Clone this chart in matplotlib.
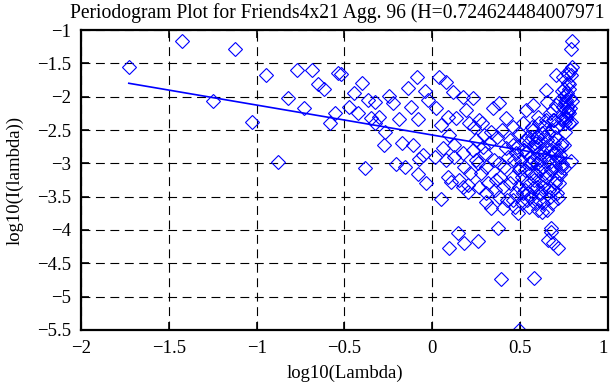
import matplotlib
matplotlib.use("Agg")
import matplotlib.pyplot as plt
from matplotlib.ticker import FixedLocator

# Periodogram points: log10(Lambda), log10(I(lambda))
x_left = [-1.728, -1.425, -1.250, -1.123, -1.026, -0.949, -0.880, -0.821, -0.770,
          -0.728, -0.685, -0.649, -0.614, -0.582, -0.554, -0.539, -0.520, -0.476,
          -0.444, -0.425, -0.402, -0.381, -0.368, -0.349, -0.324, -0.324, -0.302,
          -0.277, -0.267, -0.249, -0.226, -0.207, -0.192, -0.172, -0.154, -0.141,
          -0.121, -0.112, -0.089, -0.084, -0.084, -0.078, -0.055, -0.040, -0.036,
          -0.027]
y_left = [-1.55, -1.16, -2.06, -1.285, -2.38, -1.68, -2.975, -2.015, -1.60,
          -2.17, -1.60, -1.81, -1.89, -2.39, -2.24, -1.65, -1.665, -2.16,
          -1.95, -2.24, -1.79, -3.065, -2.05, -2.325, -2.075, -2.39, -2.30,
          -2.725, -2.525, -1.99, -2.09, -3.01, -2.34, -2.70, -3.05, -1.875,
          -2.16, -2.725, -1.71, -2.34, -3.16, -2.94, -2.875, -1.91, -3.30,
          -2.05]

x_mid = [0.017, 0.021, 0.040, 0.049, 0.049, 0.059, 0.078, 0.078, 0.087, 0.087,
         0.097, 0.097, 0.106, 0.120, 0.125, 0.125, 0.135, 0.144, 0.154, 0.173,
         0.173, 0.173, 0.182, 0.182, 0.192, 0.201, 0.201, 0.211, 0.230, 0.230,
         0.249, 0.249, 0.258, 0.267, 0.267, 0.277, 0.286, 0.296, 0.306, 0.306,
         0.306, 0.334, 0.334, 0.343, 0.363, 0.372, 0.381, 0.381, 0.381, 0.391,
         0.400, 0.400, 0.419, 0.419, 0.429, 0.457, 0.457, 0.457, 0.457, 0.476,
         0.476, 0.495, 0.495, 0.495, 0.495, 0.495,
         0.215, 0.240, 0.262, 0.285, 0.300, 0.318, 0.325, 0.350, 0.355, 0.370,
         0.388, 0.395, 0.410, 0.425, 0.440, 0.445, 0.465, 0.470, 0.485, 0.490]
y_mid = [-2.90, -2.175, -1.70, -2.425, -3.535, -2.775, -1.775, -2.95, -2.30, -3.20,
         -2.575, -4.275, -3.275, -1.925, -2.725, -2.90, -2.325, -4.04, -3.25, -2.00,
         -2.85, -3.35, -3.05, -4.20, -2.20, -3.325, -3.425, -2.40, -2.025, -2.80,
         -2.65, -2.95, -4.16, -2.35, -3.35, -3.15, -2.75, -2.575, -3.05, -3.45,
         -3.575, -2.525, -3.675, -2.175, -3.25, -3.975, -2.10, -3.00, -3.50, -4.74,
         -3.35, -3.675, -2.325, -2.775, -2.90, -2.45, -2.725, -3.20, -3.55, -2.85,
         -3.45, -2.55, -3.05, -3.35, -3.10, -5.50,
         -3.15, -2.45, -3.00, -2.40, -2.85, -3.30, -2.70, -2.95, -3.40, -2.60,
         -3.20, -2.50, -3.05, -3.55, -2.65, -3.30, -2.95, -3.65, -2.75, -3.75]

x_dense = [0.505, 0.510, 0.514, 0.520, 0.525, 0.533, 0.533, 0.538, 0.543, 0.548,
           0.552, 0.552, 0.557, 0.562, 0.566, 0.571, 0.571, 0.571, 0.575, 0.580,
           0.580, 0.585, 0.590, 0.590, 0.594, 0.598, 0.600, 0.603, 0.607, 0.609,
           0.609, 0.612, 0.616, 0.620, 0.624, 0.628, 0.628, 0.632, 0.636, 0.640,
           0.644, 0.647, 0.647, 0.647, 0.651, 0.655, 0.656, 0.659, 0.663, 0.666,
           0.670, 0.673, 0.677, 0.680, 0.685, 0.685, 0.685, 0.688, 0.692, 0.694,
           0.697, 0.700, 0.704, 0.704, 0.704, 0.707, 0.710, 0.713, 0.716, 0.719,
           0.525, 0.540, 0.560, 0.578, 0.600, 0.618, 0.638, 0.660, 0.678, 0.698,
           0.515, 0.545, 0.565, 0.595, 0.622, 0.650, 0.675, 0.700, 0.715, 0.690,
           0.508, 0.530, 0.555, 0.583, 0.605, 0.630, 0.655, 0.668, 0.683, 0.712]
y_dense = [-2.95, -3.20, -3.45, -2.80, -3.10, -2.20, -2.85, -3.30, -2.60, -3.00,
           -2.675, -3.65, -2.90, -3.15, -2.45, -2.125, -2.50, -3.375, -2.95, -3.25,
           -4.725, -2.70, -2.75, -3.175, -3.00, -2.60, -3.70, -2.85, -3.10, -2.40,
           -3.55, -2.95, -2.70, -3.25, -2.55, -2.825, -3.35, -3.05, -2.45, -2.90,
           -3.15, -1.90, -2.35, -3.20, -2.65, -2.075, -2.55, -2.95, -3.40, -3.00,
           -2.25, -2.80, -3.10, -2.50, -2.85, -3.40, -4.20, -2.35, -2.70, -2.35,
           -3.05, -2.60, -1.675, -2.125, -3.25, -2.95, -2.45, -3.525, -2.80, -3.15,
           -2.65, -3.55, -3.00, -2.75, -2.30, -3.45, -2.60, -4.15, -3.975, -2.85,
           -2.40, -3.45, -2.60, -3.35, -3.725, -2.75, -4.025, -3.30, -4.275, -2.20,
           -3.60, -3.40, -3.50, -3.60, -3.45, -3.60, -3.70, -3.50, -3.60, -3.45]

x_hook = [0.797, 0.795, 0.794, 0.792, 0.791, 0.789, 0.788, 0.786, 0.785, 0.783,
          0.782, 0.780, 0.779, 0.777, 0.776, 0.774, 0.772, 0.771, 0.769, 0.768,
          0.766, 0.764, 0.763, 0.761, 0.759, 0.758, 0.756, 0.754, 0.753, 0.751,
          0.749, 0.747, 0.746, 0.744, 0.742, 0.740, 0.739, 0.737, 0.735, 0.733,
          0.731, 0.729, 0.728, 0.726, 0.724, 0.722]
y_hook = [-1.55, -1.16, -2.06, -1.29, -2.38, -1.68, -2.97, -2.02, -1.60, -2.17,
          -1.60, -1.81, -1.89, -2.39, -2.24, -1.66, -2.22, -1.79, -1.95, -2.16,
          -2.24, -2.05, -2.08, -2.33, -2.30, -1.99, -2.09, -2.53, -2.39, -2.72,
          -3.07, -1.88, -1.71, -2.34, -2.16, -2.70, -3.01, -1.91, -3.05, -2.34,
          -2.73, -2.05, -2.88, -3.16, -2.94, -3.30]

# Least-squares line: slope = 1 - 2H, H = 0.724624484007971
H = 0.724624484007971
fit_slope = 1 - 2 * H
fit_intercept = -2.575
fit_x = [-1.728, 0.795]

xs = x_left + x_mid + x_dense + x_hook
ys = y_left + y_mid + y_dense + y_hook

plt.rcParams['font.family'] = ['Liberation Serif', 'DejaVu Serif']
plt.rcParams['axes.unicode_minus'] = True

fig = plt.figure(figsize=(6.11, 3.85), dpi=100)
ax = fig.add_axes([0.1326, 0.1429, 0.995 - 0.1326, 0.922 - 0.1429])

ax.plot(xs, ys, linestyle='none', marker='D', markersize=7.5,
        markerfacecolor='none', markeredgecolor='#0000ff', markeredgewidth=0.8)
fit_y = [fit_intercept + fit_slope * v for v in fit_x]
ax.plot(fit_x, fit_y, color='#0000ff', linewidth=1.2)

ax.set_xlim(-2, 1)
ax.set_ylim(-5.5, -1)
ax.xaxis.set_major_locator(FixedLocator([-2, -1.5, -1, -0.5, 0, 0.5, 1]))
ax.yaxis.set_major_locator(FixedLocator([-5.5, -5, -4.5, -4, -3.5, -3, -2.5, -2, -1.5, -1]))
ax.set_xticklabels(['\u22122', '\u22121.5', '\u22121', '\u22120.5', '0', '0.5', '1'])
ax.set_yticklabels(['\u22125.5', '\u22125', '\u22124.5', '\u22124', '\u22123.5', '\u22123',
                    '\u22122.5', '\u22122', '\u22121.5', '\u22121'])
ax.grid(True, color='black', linestyle=(0, (8, 5)), linewidth=0.8)
ax.tick_params(direction='in', length=6, width=1.2, top=True, right=True,
               labelsize=13.5, colors='black', pad=7)
for s in ax.spines.values():
    s.set_linewidth(1.6)
# keep the rightmost x tick label inside the figure
ax.get_xticklabels()[-1].set_horizontalalignment('right')
ax.get_xticklabels()[-1].set_x(1.0)

ax.set_xlabel('log10(Lambda)', fontsize=13.5, labelpad=6)
ax.set_ylabel('log10(I(lambda))', fontsize=13.5, labelpad=10)
fig.text(0.114, 0.965, 'Periodogram Plot for Friends4x21 Agg. 96 (H=0.724624484007971',
         fontsize=14.1, ha='left', va='center')

fig.savefig('out.png', dpi=100)
